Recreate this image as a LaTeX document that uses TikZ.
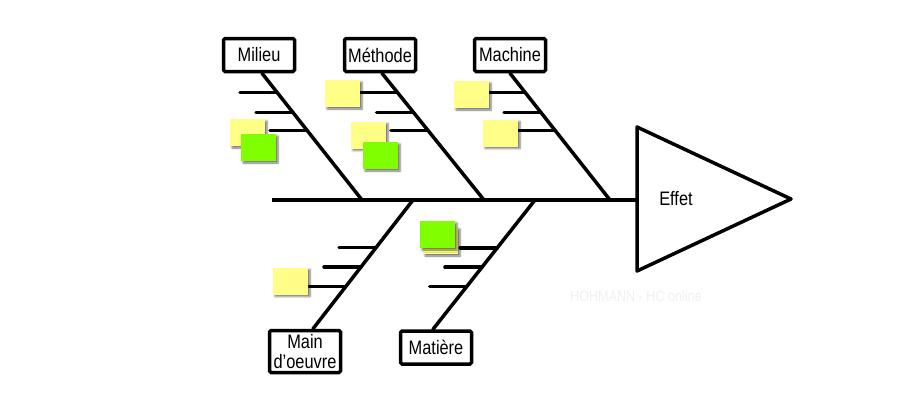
\documentclass[tikz,border=0pt]{standalone}
\usepackage{fontspec}
\setmainfont[FakeStretch=0.84]{Liberation Sans}
\usetikzlibrary{calc}
\usetikzlibrary{shadows.blur}
\definecolor{noteyellow}{RGB}{255,255,136}
\definecolor{notegreen}{RGB}{128,255,0}

\begin{document}
\begin{tikzpicture}[x=1pt, y=-1pt, bone/.style={line width=3.5pt, line cap=round},
                    cause/.style={draw, line width=3.5pt, rounded corners=1.5pt, fill=white, minimum width=71pt, minimum height=33pt,
                                  inner sep=1pt, align=center, font=\fontsize{19.5}{20}\selectfont},
                    note/.style={minimum width=35pt, minimum height=27pt, inner sep=0pt,
                                 blur shadow={shadow xshift=2pt, shadow yshift=-2pt, shadow blur radius=2pt, shadow opacity=55}},
                    yellownote/.style={note, fill=noteyellow},
                    greennote/.style={note, fill=notegreen}]
    \useasboundingbox (0,0) rectangle (900,400);

    \coordinate (tail) at (272,200);
    \coordinate (jmil) at (362,200);
    \coordinate (jmet) at (484,200);
    \coordinate (jmac) at (610,200);
    \coordinate (jmain) at (413,200);
    \coordinate (jmat) at (535,200);
    \coordinate (head) at (637,200);
    \coordinate (ttop) at (637,127);
    \coordinate (ttip) at (791,199);
    \coordinate (tbot) at (637,271);

    \node[cause] (milieu) at (259,55) {Milieu};
    \node[cause] (methode) at (380,55) {Méthode};
    \node[cause] (machine) at (510,55) {Machine};
    \node[cause, minimum height=42pt] (main) at (305,351.5) {Main\\d'oeuvre};
    \node[cause] (matiere) at (436,347.5) {Matière};

    \draw[line width=3.5pt, line join=round] (ttop) -- (ttip) -- (tbot) -- cycle;
    \node[font=\fontsize{19.5}{20}\selectfont] (effet) at (676,199) {Effet};
    \draw[bone, line cap=butt] (tail) -- (head);

    \draw[bone] ([xshift=3pt]milieu.south) -- (jmil);
    \draw[bone] ([xshift=2pt]methode.south) -- (jmet);
    \draw[bone] (machine.south) -- (jmac);
    \draw[bone] (jmain) -- ([xshift=8pt]main.north);
    \draw[bone] (jmat) -- ([xshift=-3pt]matiere.north);

    \foreach \f in {0.15,0.31,0.45} {
        \draw[bone] ($([xshift=3pt]milieu.south)!\f!(jmil)$) -- ++(-37,0);
        \draw[bone] ($([xshift=2pt]methode.south)!\f!(jmet)$) -- ++(-37,0);
        \draw[bone] ($(machine.south)!\f!(jmac)$) -- ++(-37,0);
    }
    \foreach \f in {0.37,0.52,0.67} {
        \draw[bone] ($(jmain)!\f!([xshift=8pt]main.north)$) -- ++(-37,0);
        \draw[bone] ($(jmat)!\f!([xshift=-3pt]matiere.north)$) -- ++(-37,0);
    }

    \node[yellownote] (mil1) at (247.5,132.5) {};
    \node[greennote] (mil2) at (258.5,147.5) {};
    \node[yellownote] (met1) at (342.5,93.5) {};
    \node[yellownote] (met2) at (368.5,135) {};
    \node[greennote] (met3) at (380.5,155.5) {};
    \node[yellownote] (mac1) at (471.5,94.5) {};
    \node[yellownote] (mac2) at (500.5,133) {};
    \node[yellownote] (main1) at (290.5,281) {};
    \node[yellownote] (mat1) at (440.5,240.5) {};
    \node[greennote] (mat2) at (437.5,234.5) {};

    \node[text=black!6, font=\fontsize{15}{17}\selectfont] (credit) at (636,296) {HOHMANN - HC online};
\end{tikzpicture}
\end{document}
